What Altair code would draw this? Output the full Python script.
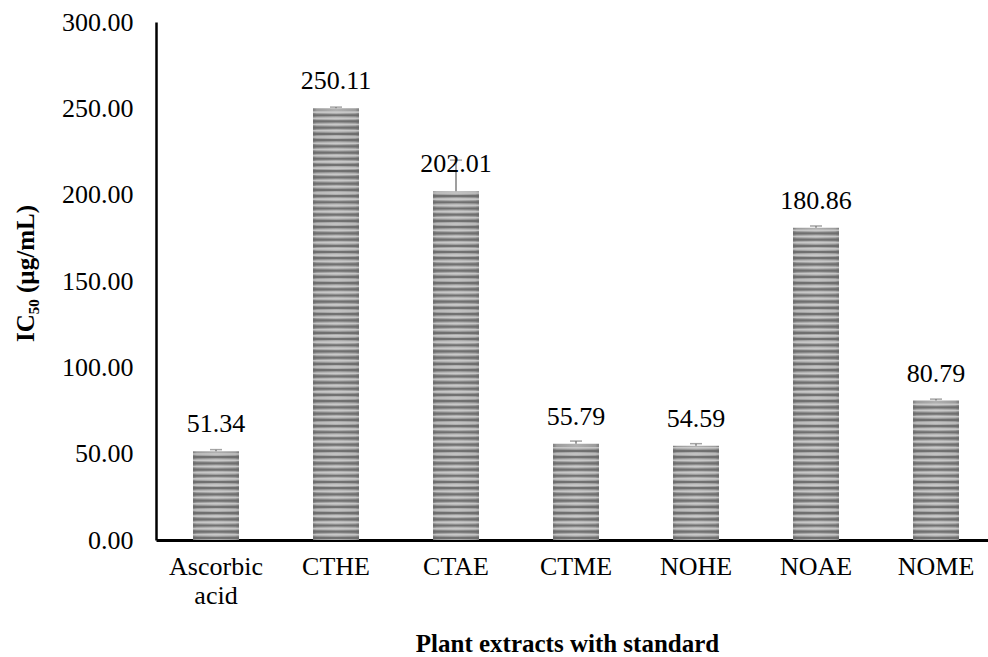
import altair as alt
import numpy as np
import pandas as pd

categories = ["Ascorbic acid", "CTHE", "CTAE", "CTME", "NOHE", "NOAE", "NOME"]
values = [51.34, 250.11, 202.01, 55.79, 54.59, 180.86, 80.79]
errors = [1.0, 0.6, 18.0, 1.5, 1.2, 1.0, 0.8]
y_ticks = [0, 50, 100, 150, 200, 250, 300]

df = pd.DataFrame({"cat": categories, "value": values, "err": errors})
df["top"] = df["value"] + df["err"]
df["label"] = [f"{v:.2f}" for v in values]

# decorative horizontal stripe levels inside each bar
rows_dark, rows_light = [], []
for c, v in zip(categories, values):
    for y in np.arange(1.2, v - 0.6, 3.6):
        rows_dark.append({"cat": c, "y": y})
    for y in np.arange(3.0, v - 0.6, 3.6):
        rows_light.append({"cat": c, "y": y})
stripes_dark = pd.DataFrame(rows_dark)
stripes_light = pd.DataFrame(rows_light)

FONT = "Times New Roman, Liberation Serif, serif"
FS = 26
TFS = 25

xenc = alt.X(
    "cat:N",
    sort=categories,
    scale=alt.Scale(range=[0, 840], paddingInner=0.617, paddingOuter=0.3085),
    axis=alt.Axis(
        title="Plant extracts with standard",
        labelAngle=0,
        labelExpr="datum.label == 'Ascorbic acid' ? ['Ascorbic', 'acid'] : datum.label",
        labelBaseline="alphabetic",
        labelPadding=34,
        labelLineHeight=29,
        labelFont=FONT,
        labelFontSize=FS,
        labelColor="black",
        ticks=False,
        domainColor="black",
        domainWidth=3,
        titleFont=FONT,
        titleFontSize=TFS,
        titleFontWeight="bold",
        titleColor="black",
        titleX=411,
        titleY=111,
        titleAlign="center",
        titleBaseline="alphabetic",
    ),
)

yscale = alt.Scale(domain=[0, 300], nice=False)
yaxis = alt.Axis(
    title="IC₅₀ (µg/mL)",
    values=y_ticks,
    format=".2f",
    grid=False,
    ticks=False,
    labelPadding=23,
    labelFont=FONT,
    labelFontSize=FS,
    labelColor="black",
    domainColor="black",
    domainWidth=2.5,
    titleFont=FONT,
    titleFontSize=TFS,
    titleFontWeight="bold",
    titleColor="black",
    titleX=-131,
    titleY=251,
    titleAlign="center",
    titleBaseline="middle",
    titleAngle=270,
)

grad = alt.LinearGradient(
    gradient="linear",
    x1=0, x2=1, y1=0, y2=0,
    stops=[
        alt.GradientStop(offset=0, color="#7e7e7e"),
        alt.GradientStop(offset=0.08, color="#9c9c9c"),
        alt.GradientStop(offset=0.5, color="#b0b0b0"),
        alt.GradientStop(offset=0.92, color="#9c9c9c"),
        alt.GradientStop(offset=1, color="#7e7e7e"),
    ],
)

bars = alt.Chart(df).mark_bar(color=grad).encode(
    x=xenc,
    y=alt.Y("value:Q", scale=yscale, axis=yaxis),
)

dark = alt.Chart(stripes_dark).mark_tick(
    orient="horizontal", size=46, thickness=2.2, color="#666666", opacity=0.85
).encode(x=alt.X("cat:N", sort=categories), y=alt.Y("y:Q"))

light = alt.Chart(stripes_light).mark_tick(
    orient="horizontal", size=46, thickness=1.6, color="#cfcfcf", opacity=0.8
).encode(x=alt.X("cat:N", sort=categories), y=alt.Y("y:Q"))

err_rule = alt.Chart(df).mark_rule(color="#7f7f7f", strokeWidth=1.5).encode(
    x=alt.X("cat:N", sort=categories), y="value:Q", y2="top:Q"
)

err_cap = alt.Chart(df).mark_tick(
    orient="horizontal", size=12, thickness=1.5, color="#7f7f7f"
).encode(x=alt.X("cat:N", sort=categories), y="top:Q")

labels = alt.Chart(df).mark_text(
    font=FONT, fontSize=FS, color="black", baseline="alphabetic", align="center", dy=-19
).encode(x=alt.X("cat:N", sort=categories), y="value:Q", text="label:N")

chart = (
    alt.layer(bars, dark, light, err_rule, err_cap, labels)
    .properties(
        width=832,
        height=518,
        autosize=alt.AutoSizeParams(type="none"),
        padding={"left": 156, "top": 22, "right": 0, "bottom": 117},
        background="white",
    )
    .configure_view(stroke=None)
)

chart.save("out.html", embed_options={"renderer": "svg", "actions": False})
